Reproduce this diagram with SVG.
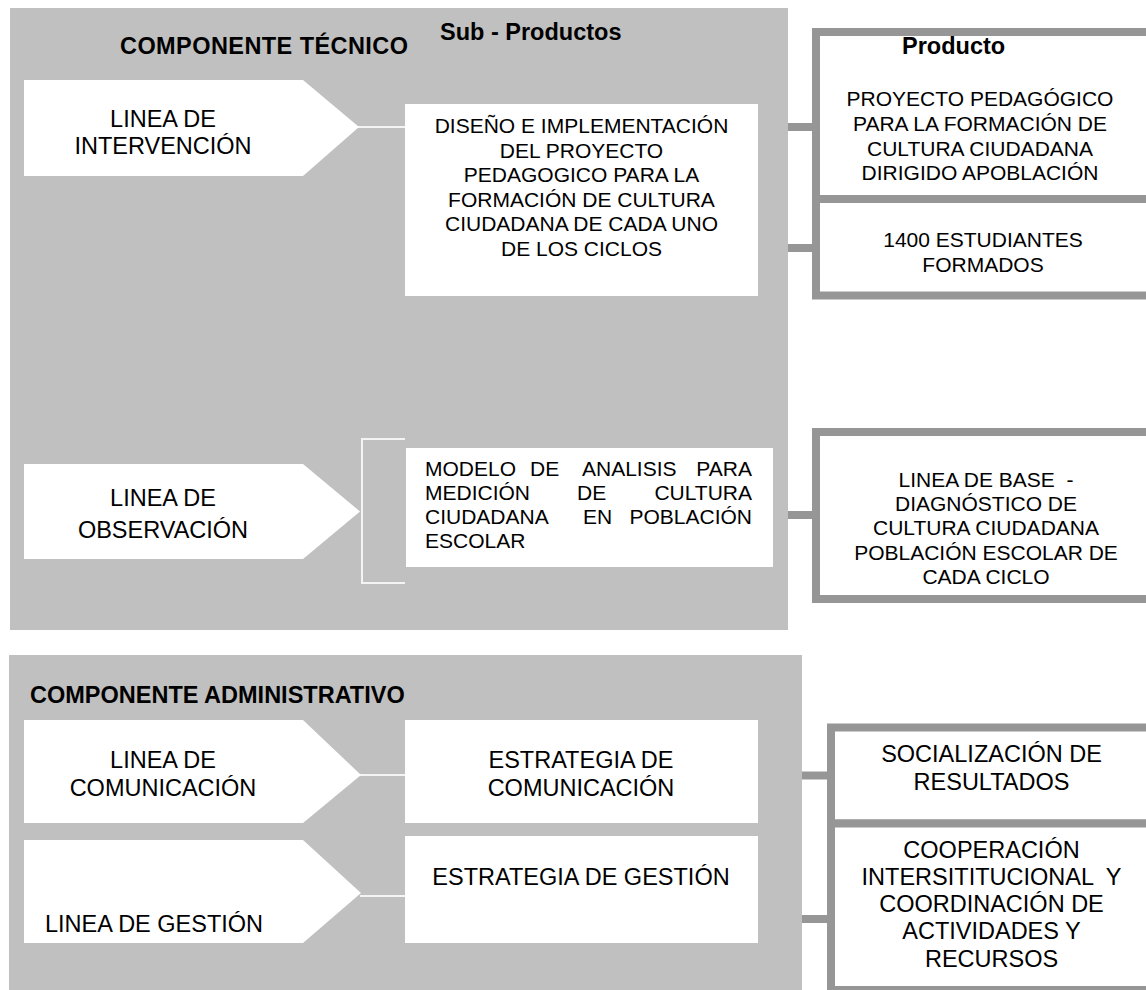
<svg xmlns="http://www.w3.org/2000/svg" width="1146" height="990" viewBox="0 0 1146 990">
<style>
.panel{fill:#c0c0c0}
.node{fill:#ffffff}
.t{font-family:"Liberation Sans",Arial,Helvetica,sans-serif;fill:#000000}
.b{font-weight:bold;font-size:23.5px}
.l{font-size:23.5px}
.s{font-size:21px}
.c{text-anchor:middle}
.e{text-anchor:end}
.prod{fill:#ffffff;stroke:#969696;stroke-width:8}
.stub{stroke:#969696;stroke-width:8}
.link{stroke:#f4f4f4;stroke-width:2;fill:none}
</style>
<rect width="1146" height="990" fill="#ffffff"/>
<g id="panel-tecnico">
<rect class="panel" x="10" y="8" width="778" height="622"/>
<text class="t b" x="120" y="54" font-size="24px" textLength="288">COMPONENTE TÉCNICO</text>
<text class="t b" x="440" y="40">Sub - Productos</text>
</g>
<g id="panel-administrativo">
<rect class="panel" x="9" y="655" width="793" height="335"/>
<text class="t b" x="30" y="703">COMPONENTE ADMINISTRATIVO</text>
</g>
<g id="connectors">
<line class="link" x1="358" y1="127" x2="406" y2="127"/>
<path class="link" d="M405,439 H362 V583 H405" stroke-width="2.5"/>
<line class="link" x1="360" y1="775" x2="406" y2="775"/>
<line class="link" x1="360" y1="896" x2="406" y2="896"/>
<line class="stub" x1="788" y1="127" x2="816" y2="127"/>
<line class="stub" x1="788" y1="248" x2="816" y2="248"/>
<line class="stub" x1="788" y1="515" x2="816" y2="515"/>
<line class="stub" x1="802" y1="775.5" x2="831" y2="775.5"/>
<line class="stub" x1="802" y1="919" x2="831" y2="919"/>
</g>
<g id="linea-intervencion">
<polygon class="node" points="24,80 303,80 359,127 303,176 24,176"/>
<text class="t l c" x="163" y="127">LINEA DE</text>
<text class="t l c" x="163" y="154">INTERVENCIÓN</text>
</g>
<g id="linea-observacion">
<polygon class="node" points="24,464 303,464 360,511.5 303,559 24,559"/>
<text class="t l c" x="163" y="506">LINEA DE</text>
<text class="t l c" x="163" y="538">OBSERVACIÓN</text>
</g>
<g id="linea-comunicacion">
<polygon class="node" points="24,720 303,720 361,775 303,823 24,823"/>
<text class="t l c" x="163" y="768">LINEA DE</text>
<text class="t l c" x="163" y="796">COMUNICACIÓN</text>
</g>
<g id="linea-gestion">
<polygon class="node" points="24,840 303,840 361,893 303,943 24,943"/>
<text class="t l" x="45" y="932">LINEA DE GESTIÓN</text>
</g>
<g id="sub-diseno">
<rect class="node" x="405" y="104" width="353" height="192"/>
<text class="t s c" x="581.5" y="133">DISEÑO E IMPLEMENTACIÓN</text>
<text class="t s c" x="581.5" y="157.5">DEL PROYECTO</text>
<text class="t s c" x="581.5" y="182">PEDAGOGICO PARA LA</text>
<text class="t s c" x="581.5" y="206.5">FORMACIÓN DE CULTURA</text>
<text class="t s c" x="581.5" y="231">CIUDADANA DE CADA UNO</text>
<text class="t s c" x="581.5" y="255.5">DE LOS CICLOS</text>
</g>
<g id="sub-modelo">
<rect class="node" x="406" y="448" width="367" height="119"/>
<text class="t s" y="476"><tspan x="425">MODELO</tspan><tspan x="530">DE</tspan><tspan x="582">ANALISIS</tspan><tspan x="752" text-anchor="end">PARA</tspan></text>
<text class="t s" y="500"><tspan x="425">MEDICIÓN</tspan><tspan x="577">DE</tspan><tspan x="752" text-anchor="end">CULTURA</tspan></text>
<text class="t s" y="524"><tspan x="425">CIUDADANA</tspan><tspan x="583">EN</tspan><tspan x="752" text-anchor="end">POBLACIÓN</tspan></text>
<text class="t s" x="425" y="548">ESCOLAR</text>
</g>
<g id="sub-comunicacion">
<rect class="node" x="405" y="720" width="353" height="103"/>
<text class="t l c" x="581" y="768">ESTRATEGIA DE</text>
<text class="t l c" x="581" y="796">COMUNICACIÓN</text>
</g>
<g id="sub-gestion">
<rect class="node" x="405" y="836" width="353" height="107"/>
<text class="t l c" x="581" y="885">ESTRATEGIA DE GESTIÓN</text>
</g>
<g id="prod-proyecto">
<rect class="prod" x="816" y="32" width="340" height="167"/>
<text class="t b" x="902" y="54">Producto</text>
<text class="t s c" x="980" y="106">PROYECTO PEDAGÓGICO</text>
<text class="t s c" x="980" y="131">PARA LA FORMACIÓN DE</text>
<text class="t s c" x="980" y="156">CULTURA CIUDADANA</text>
<text class="t s c" x="980" y="180">DIRIGIDO APOBLACIÓN</text>
</g>
<g id="prod-estudiantes">
<rect class="prod" x="816" y="199" width="340" height="96.5"/>
<text class="t s c" x="983" y="247">1400 ESTUDIANTES</text>
<text class="t s c" x="983" y="272">FORMADOS</text>
</g>
<g id="prod-linea-base">
<rect class="prod" x="816" y="432" width="340" height="167"/>
<text class="t s c" x="986" y="487" xml:space="preserve">LINEA DE BASE  -</text>
<text class="t s c" x="986" y="511">DIAGNÓSTICO DE</text>
<text class="t s c" x="986" y="535">CULTURA CIUDADANA</text>
<text class="t s c" x="986" y="560">POBLACIÓN ESCOLAR DE</text>
<text class="t s c" x="986" y="584">CADA CICLO</text>
</g>
<g id="prod-socializacion">
<rect class="prod" x="831" y="727.5" width="330" height="96"/>
<text class="t l c" x="991.5" y="762">SOCIALIZACIÓN DE</text>
<text class="t l c" x="991.5" y="790">RESULTADOS</text>
</g>
<g id="prod-cooperacion">
<rect class="prod" x="831" y="823.5" width="330" height="166.5"/>
<text class="t l c" x="991.5" y="858">COOPERACIÓN</text>
<text class="t l c" x="991.5" y="885" xml:space="preserve">INTERSITITUCIONAL  Y</text>
<text class="t l c" x="991.5" y="912">COORDINACIÓN DE</text>
<text class="t l c" x="991.5" y="939">ACTIVIDADES Y</text>
<text class="t l c" x="991.5" y="967">RECURSOS</text>
</g>
</svg>
